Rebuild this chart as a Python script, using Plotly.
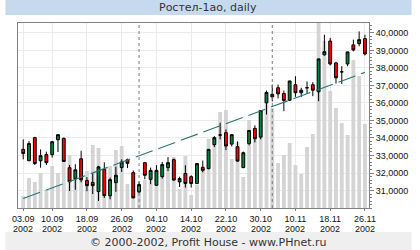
import plotly.graph_objects as go

# ---------------- data ----------------
dates = [
    "03.09", "04.09", "05.09", "06.09", "09.09", "10.09", "11.09", "12.09", "13.09", "16.09",
    "17.09", "18.09", "19.09", "20.09", "23.09", "24.09", "25.09", "26.09", "27.09", "30.09",
    "01.10", "02.10", "03.10", "04.10", "07.10", "08.10", "09.10", "10.10", "11.10", "14.10",
    "15.10", "16.10", "17.10", "18.10", "21.10", "22.10", "23.10", "24.10", "25.10", "28.10",
    "29.10", "30.10", "31.10", "01.11", "04.11", "05.11", "06.11", "10.11", "11.11", "12.11",
    "13.11", "14.11", "15.11", "18.11", "19.11", "20.11", "21.11", "22.11", "25.11", "26.11",
]
opens = [
    33.35, 32.70, 34.02, 32.70, 33.05, 33.05, 33.90, 33.98, 32.30, 31.67,
    32.81, 31.57, 31.46, 30.94, 32.21, 30.70, 31.45, 32.31, 32.76, 32.02,
    30.92, 32.59, 31.64, 31.30, 31.79, 32.31, 32.76, 31.49, 31.97, 31.79,
    31.40, 32.31, 32.25, 33.62, 34.17, 34.30, 33.65, 33.50, 32.31, 33.68,
    34.55, 34.05, 36.01, 36.50, 36.87, 36.54, 36.16, 37.04, 36.58, 36.87,
    37.04, 36.64, 38.75, 39.54, 38.29, 37.78, 38.23, 39.32, 39.39, 39.68,
]
highs = [
    33.92, 33.82, 34.07, 33.35, 33.22, 33.80, 34.20, 34.02, 32.46, 32.50,
    33.27, 31.76, 31.98, 32.41, 32.61, 31.74, 32.36, 32.78, 32.82, 32.14,
    31.51, 32.62, 32.31, 32.45, 32.63, 32.91, 32.82, 31.79, 32.44, 31.87,
    32.54, 32.71, 33.35, 34.11, 34.87, 34.49, 34.19, 33.81, 33.22, 34.43,
    34.72, 35.57, 36.71, 37.05, 37.05, 36.71, 37.26, 37.53, 36.87, 37.23,
    37.19, 38.52, 39.90, 39.72, 38.35, 38.10, 38.92, 39.62, 40.09, 39.90,
]
lows = [
    32.78, 32.68, 32.46, 32.30, 32.46, 32.88, 33.20, 32.63, 30.97, 31.04,
    31.47, 30.96, 30.80, 30.40, 30.58, 30.50, 30.92, 32.06, 32.28, 30.55,
    30.84, 31.64, 31.36, 31.26, 31.68, 32.11, 31.56, 31.20, 31.17, 31.17,
    31.36, 32.04, 32.21, 33.48, 33.92, 33.31, 33.52, 32.64, 32.27, 33.58,
    33.75, 33.92, 35.34, 36.09, 36.26, 35.53, 36.11, 36.35, 36.35, 36.54,
    36.39, 36.10, 38.71, 38.15, 37.11, 37.09, 38.10, 38.95, 39.24, 38.72,
]
closes = [
    33.11, 33.68, 32.54, 32.99, 32.59, 33.79, 34.19, 32.66, 31.50, 32.18,
    31.61, 31.28, 31.28, 32.35, 30.71, 31.62, 31.87, 32.63, 32.55, 30.58,
    31.34, 31.87, 32.15, 32.15, 32.48, 32.59, 31.60, 31.68, 31.40, 31.40,
    32.54, 32.15, 33.35, 34.02, 34.17, 33.54, 34.19, 32.68, 33.16, 34.43,
    33.96, 35.57, 36.60, 36.35, 36.52, 36.14, 37.26, 36.58, 36.73, 36.87,
    36.73, 38.52, 38.93, 38.23, 37.44, 37.78, 38.92, 39.03, 39.62, 38.80,
]
volumes = [
    12, 30, 26, 35, 18, 42, 35, 52, 53, 35,
    37, 37, 63, 60, 32, 42, 58, 62, 24, 15,
    22, 28, 37, 35, 40, 45, 51, 19, 52, 13,
    23, 42, 69, 70, 96, 98, 49, 66, 31, 88,
    75, 98, 110, 100, 45, 53, 65, 43, 34, 61,
    74, 200, 167, 117, 100, 85, 73, 148, 132, 84,
]
tick_dates = ["03.09", "10.09", "18.09", "26.09", "04.10", "14.10",
              "22.10", "30.10", "10.11", "18.11", "26.11"]
tick_years = ["2002", "2002", "2002", "2002", "2002", "2002",
              "2002", "2002", "2002", "2002", "2002"]
price_ticks = [31, 32, 33, 34, 35, 36, 37, 38, 39, 40]
price_tick_labels = ["31,0000", "32,0000", "33,0000", "34,0000", "35,0000",
                     "36,0000", "37,0000", "38,0000", "39,0000", "40,0000"]
trend_dates = ["03.09", "26.11"]
trend_values = [30.54, 37.75]
month_starts = ["01.10", "01.11"]

title_text = "Ростел-1ao, daily"
footer_text = "© 2000-2002, Profit House - www.PHnet.ru"

# ---------------- figure ----------------
idx = list(range(len(dates)))
pos = {d: i for i, d in enumerate(dates)}

W, H = 420, 250
ML, MR, MT, MB = 13, 44, 23, 42
PW, PH = W - ML - MR, H - MT - MB


def px_x(X):
    return (X - ML) / PW


def px_y(Y):
    return (H - MB - Y) / PH


fig = go.Figure()
fig.add_trace(go.Bar(
    x=idx, y=volumes, width=0.66, marker=dict(color="#D4D4D4", line=dict(width=0)),
    xaxis="x", yaxis="y", hoverinfo="skip",
))
fig.add_trace(go.Scatter(
    x=[pos[d] for d in trend_dates], y=trend_values, mode="lines",
    line=dict(color="#2A7474", width=1.1, dash="18px,6px"),
    xaxis="x", yaxis="y2", hoverinfo="skip",
))
fig.add_trace(go.Candlestick(
    x=idx, open=opens, high=highs, low=lows, close=closes,
    xaxis="x", yaxis="y2", whiskerwidth=0,
    increasing=dict(fillcolor="#00803F", line=dict(color="#000000", width=1)),
    decreasing=dict(fillcolor="#FF0000", line=dict(color="#000000", width=1)),
))

for d in month_starts:
    fig.add_shape(type="line", xref="x", yref="paper", x0=pos[d], x1=pos[d], y0=0, y1=1,
                  line=dict(color="#7A7A7A", width=1, dash="3px,3px"), layer="above")

# title bar and footer bands
fig.add_shape(type="rect", xref="paper", yref="paper",
              x0=px_x(0), x1=px_x(W), y0=px_y(15), y1=px_y(0),
              fillcolor="#C6DAEF", line=dict(width=0), layer="below")
fig.add_shape(type="rect", xref="paper", yref="paper",
              x0=px_x(0), x1=px_x(W), y0=px_y(H), y1=px_y(232),
              fillcolor="#EFEFEF", line=dict(width=0), layer="below")
fig.add_annotation(text=title_text, xref="paper", yref="paper", x=px_x(210), y=px_y(7.5),
                   showarrow=False, xanchor="center", yanchor="middle",
                   font=dict(family="DejaVu Sans", size=11, color="#333333"))
fig.add_annotation(text=footer_text, xref="paper", yref="paper", x=px_x(210), y=px_y(242.5),
                   showarrow=False, xanchor="center", yanchor="middle",
                   font=dict(family="DejaVu Sans", size=11, color="#333333"))

tickfont = dict(family="Liberation Sans, Arial", size=9, color="#111111")

# second line of the date labels (year)
for d, yr in zip(tick_dates, tick_years):
    fig.add_annotation(text=yr, xref="x", yref="paper", x=pos[d], y=px_y(223),
                       showarrow=False, xanchor="center", yanchor="top",
                       font=tickfont, borderpad=0)

fig.update_layout(
    width=W, height=H, margin=dict(l=ML, r=MR, t=MT, b=MB, pad=0),
    paper_bgcolor="white", plot_bgcolor="white", showlegend=False,
    xaxis=dict(
        range=[-0.9, 59.7], tickmode="array", tickvals=[pos[d] for d in tick_dates],
        ticktext=tick_dates, showgrid=True, gridcolor="#EBEBEB", gridwidth=1,
        showline=True, linecolor="#808080", linewidth=1, mirror=True,
        ticks="outside", ticklen=2, tickcolor="#808080", tickfont=tickfont,
        rangeslider=dict(visible=False), zeroline=False, fixedrange=True,
    ),
    yaxis=dict(range=[0, 185], visible=False, showgrid=False, fixedrange=True),
    yaxis2=dict(
        overlaying="y", side="right", range=[30.0, 40.57], tickmode="array",
        tickvals=price_ticks, ticktext=price_tick_labels,
        showgrid=True, gridcolor="#EBEBEB", gridwidth=1,
        showline=True, linecolor="#808080", linewidth=1, mirror=True,
        ticks="outside", ticklen=4, tickcolor="#808080", tickfont=tickfont,
        minor=dict(tickmode="linear", tick0=30, dtick=0.2, ticks="outside",
                   ticklen=2, tickcolor="#808080", showgrid=False),
        zeroline=False, fixedrange=True,
    ),
)

fig.write_html("out.html")
